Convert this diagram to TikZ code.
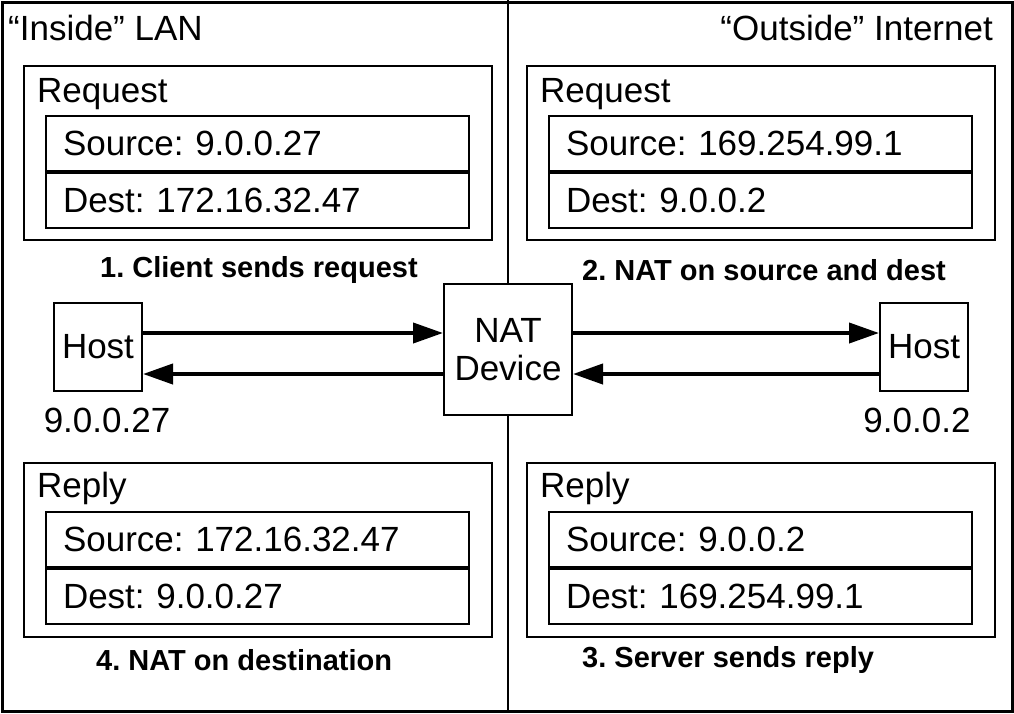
\documentclass[tikz,border=0pt]{standalone}
\usepackage{fontspec}
\setmainfont{Liberation Sans}
\usetikzlibrary{arrows.meta,positioning}
\frenchspacing

\tikzset{
  box/.style={draw, line width=2pt, inner sep=0pt},
  pkt/.style={box, minimum width=468pt, minimum height=174pt, anchor=north west},
  field/.style={box, minimum width=423pt, minimum height=55pt, text width=389pt,
    inner xsep=17pt, align=left},
  host/.style={box, minimum width=88pt, minimum height=88pt},
  flow/.style={line width=4pt, -{Triangle[length=30pt,width=20pt]}},
  caption/.style={font=\fontsize{29}{34}\selectfont\bfseries, inner sep=0pt, anchor=west}
}

\begin{document}
\begin{tikzpicture}[x=1pt, y=-1pt, every node/.style={font=\fontsize{35}{38}\selectfont}]
  \useasboundingbox (0,0) rectangle (1014,713);
  \draw[line width=3pt] (2,2) rectangle (1012,711);

  % sides
  \node[anchor=west, inner sep=0pt] (lan) at (8,28) {“Inside” LAN};
  \node[anchor=east, inner sep=0pt] (net) at (993,28) {“Outside” Internet};

  % hosts and the NAT box
  \node[host] (hostL) at (98,347) {Host};
  \node[host] (hostR) at (924,347) {Host};
  \node[box, minimum width=128pt, minimum height=131pt, align=center] (nat) at (508,349.5) {NAT\\Device};
  \node[inner sep=0pt] (ipL) at (107,420) {9.0.0.27};
  \node[inner sep=0pt] (ipR) at (917,420) {9.0.0.2};

  \draw[line width=2pt] (nat.north) -- (nat.north |- 0,0);
  \draw[line width=2pt] (nat.south) -- (nat.south |- 0,713);

  \draw[flow] (hostL.east |- 0,333) -- (nat.west |- 0,333);
  \draw[flow] (nat.west |- 0,374) -- (hostL.east |- 0,374);
  \draw[flow] (nat.east |- 0,333) -- (hostR.west |- 0,333);
  \draw[flow] (hostR.west |- 0,374) -- (nat.east |- 0,374);

  % 1. request, inside
  \node[pkt] (reqL) at (23,65) {};
  \node[anchor=base west, inner sep=0pt] at ([shift={(14,37)}]reqL.north west) {Request};
  \node[field, anchor=north west] (reqLsrc) at ([shift={(22,50)}]reqL.north west) {Source: 9.0.0.27};
  \node[field, below=0pt of reqLsrc] (reqLdst) {Dest: 172.16.32.47};
  \node[caption] at (100,270) {1. Client sends request};

  % 2. request, outside
  \node[pkt] (reqR) at (526,65) {};
  \node[anchor=base west, inner sep=0pt] at ([shift={(14,37)}]reqR.north west) {Request};
  \node[field, anchor=north west] (reqRsrc) at ([shift={(22,50)}]reqR.north west) {Source: 169.254.99.1};
  \node[field, below=0pt of reqRsrc] (reqRdst) {Dest: 9.0.0.2};
  \node[caption] at (582,270) {2. NAT on source and dest};

  % 3. reply, outside
  \node[pkt] (repR) at (526,462) {};
  \node[anchor=base west, inner sep=0pt] at ([shift={(14,35)}]repR.north west) {Reply};
  \node[field, anchor=north west] (repRsrc) at ([shift={(22,49)}]repR.north west) {Source: 9.0.0.2};
  \node[field, below=0pt of repRsrc] (repRdst) {Dest: 169.254.99.1};
  \node[caption] at (582,660) {3. Server sends reply};

  % 4. reply, inside
  \node[pkt] (repL) at (23,462) {};
  \node[anchor=base west, inner sep=0pt] at ([shift={(14,35)}]repL.north west) {Reply};
  \node[field, anchor=north west] (repLsrc) at ([shift={(22,49)}]repL.north west) {Source: 172.16.32.47};
  \node[field, below=0pt of repLsrc] (repLdst) {Dest: 9.0.0.27};
  \node[caption] at (96,660) {4. NAT on destination};
\end{tikzpicture}
\end{document}
